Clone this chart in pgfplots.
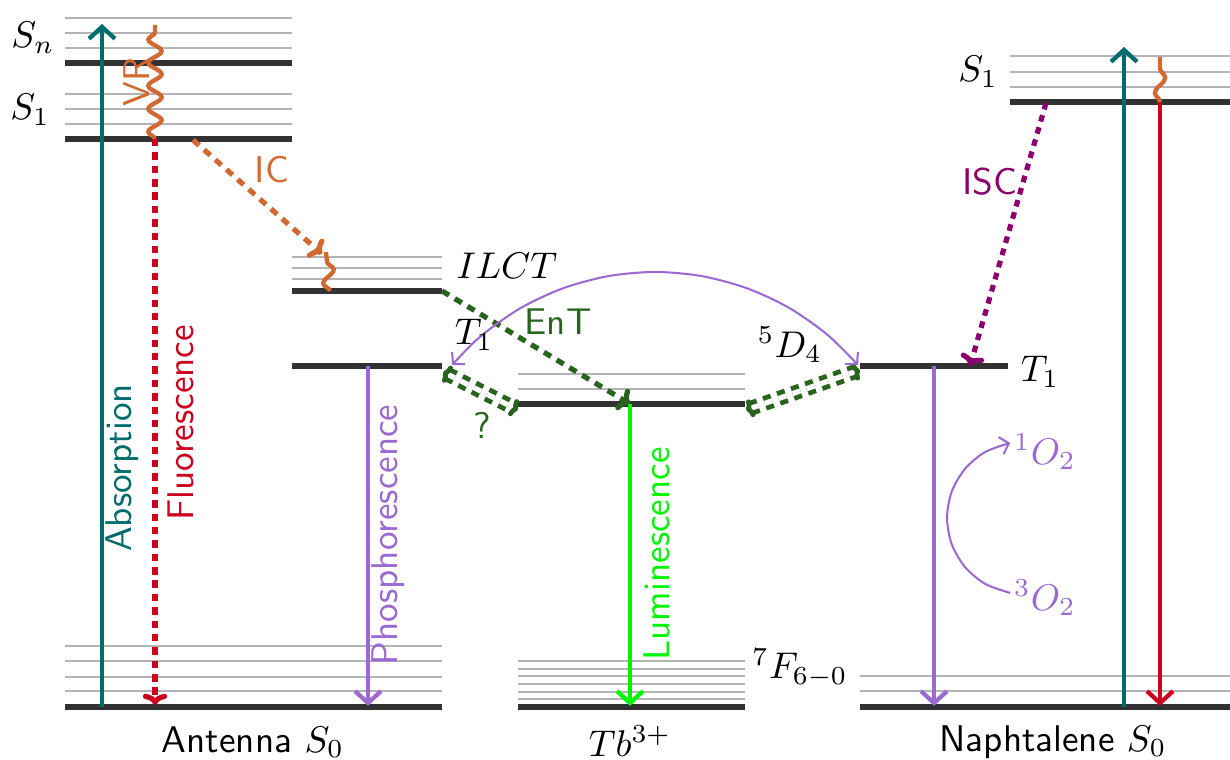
\documentclass[border=0pt]{standalone}
\usepackage{pgfplots}
\pgfplotsset{compat=1.18}
\usetikzlibrary{arrows.meta,decorations.pathmorphing}
\definecolor{lvl}{RGB}{50,50,50}
\definecolor{sub}{RGB}{180,180,180}
\definecolor{cteal}{RGB}{0,108,108}
\definecolor{cred}{RGB}{205,0,30}
\definecolor{corange}{RGB}{210,105,50}
\definecolor{cpurple}{RGB}{155,105,210}
\definecolor{cgreen}{RGB}{40,100,30}
\definecolor{clime}{RGB}{0,245,0}
\definecolor{cmag}{RGB}{140,0,110}
\begin{document}
\begin{tikzpicture}
\begin{axis}[scale only axis, width=331pt, height=204.5pt,
  xmin=0, xmax=1230, ymin=0, ymax=760, y dir=reverse,
  hide axis, clip=false,
  level/.style={lvl, line width=1.4pt},
  sublevel/.style={sub, line width=0.6pt},
  tr/.style={line width=1.15pt, -{Straight Barb[length=3.2pt,width=7pt]}},
  dsh/.style={line width=1.4pt, dash pattern=on 2.2pt off 1.8pt, -{To[length=3pt,width=6.5pt]}},
  wav/.style={corange, line width=1.15pt, decorate, decoration={snake, amplitude=1.8pt, segment length=6.2pt}},
]
% ---------------- Antenna levels
\addplot[sublevel] coordinates {(65,18)(292,18)};
\addplot[sublevel] coordinates {(65,33)(292,33)};
\addplot[sublevel] coordinates {(65,48)(292,48)};
\addplot[level] coordinates {(65,63)(292,63)};
\addplot[sublevel] coordinates {(65,94)(292,94)};
\addplot[sublevel] coordinates {(65,109)(292,109)};
\addplot[sublevel] coordinates {(65,124)(292,124)};
\addplot[level] coordinates {(65,139)(292,139)};
% ILCT
\addplot[sublevel] coordinates {(292,257)(442,257)};
\addplot[sublevel] coordinates {(292,268)(442,268)};
\addplot[sublevel] coordinates {(292,279)(442,279)};
\addplot[level] coordinates {(292,291)(442,291)};
% T1 antenna
\addplot[level] coordinates {(292,366)(442,366)};
% ground antenna
\addplot[sublevel] coordinates {(65,646)(442,646)};
\addplot[sublevel] coordinates {(65,661)(442,661)};
\addplot[sublevel] coordinates {(65,677)(442,677)};
\addplot[sublevel] coordinates {(65,691)(442,691)};
\addplot[level] coordinates {(65,707)(442,707)};
% ---------------- Tb levels
\addplot[sublevel] coordinates {(518,374)(745,374)};
\addplot[sublevel] coordinates {(518,389)(745,389)};
\addplot[level] coordinates {(518,404)(745,404)};
\addplot[sublevel] coordinates {(518,661)(745,661)};
\addplot[sublevel] coordinates {(518,669)(745,669)};
\addplot[sublevel] coordinates {(518,676)(745,676)};
\addplot[sublevel] coordinates {(518,684)(745,684)};
\addplot[sublevel] coordinates {(518,692)(745,692)};
\addplot[sublevel] coordinates {(518,699)(745,699)};
\addplot[level] coordinates {(518,707)(745,707)};
% ---------------- Naphthalene levels
\addplot[sublevel] coordinates {(1010,56)(1230,56)};
\addplot[sublevel] coordinates {(1010,72)(1230,72)};
\addplot[sublevel] coordinates {(1010,87)(1230,87)};
\addplot[level] coordinates {(1010,102)(1230,102)};
\addplot[level] coordinates {(860,366)(1008,366)};
\addplot[sublevel] coordinates {(860,676)(1230,676)};
\addplot[sublevel] coordinates {(860,691)(1230,691)};
\addplot[level] coordinates {(860,707)(1230,707)};
% ---------------- Transitions antenna
\addplot[tr, cteal] coordinates {(102,707)(102,24)};
\addplot[wav] coordinates {(155,139)(155,25)};
\addplot[dsh, cred, dash pattern=on 2pt off 1.6pt] coordinates {(155,139)(155,705)};
\addplot[dsh, corange] coordinates {(193,140)(322,254)};
\addplot[wav, decoration={snake, amplitude=1.6pt, segment length=7pt}] coordinates {(330,291)(326,252)};
\addplot[tr, cpurple] coordinates {(368,366)(368,706)};
% EnT
\addplot[dsh, cgreen] coordinates {(442,291)(630,404)};
% double dashed
\addplot[cgreen, line width=1.3pt, double=white, double distance=1.4pt, dash pattern=on 2.2pt off 1.8pt, {To[length=2pt,width=5pt]}-{To[length=2pt,width=5pt]}] coordinates {(443,372)(518,410)};
\addplot[cgreen, line width=1.3pt, double=white, double distance=1.4pt, dash pattern=on 2.2pt off 1.8pt, {To[length=2pt,width=5pt]}-{To[length=2pt,width=5pt]}] coordinates {(746,410)(860,370)};
% purple arc
\addplot[cpurple, line width=0.55pt, smooth, {Straight Barb[length=2.2pt,width=4.8pt]}-{Straight Barb[length=2.2pt,width=4.8pt]}] coordinates {(452,365)(482.7,334.7)(520.95,307.9)(563.3,288.2)(608.5,276.1)(655,272)(701.5,276.1)(746.7,288.2)(789.05,307.9)(827.3,334.7)(858,365)};
% luminescence
\addplot[tr, clime] coordinates {(630,404)(630,706)};
% ---------------- Naphthalene transitions
\addplot[tr, cpurple] coordinates {(934,366)(934,706)};
\addplot[tr, cteal] coordinates {(1124,707)(1124,47)};
\addplot[tr, cred] coordinates {(1160,102)(1160,706)};
\addplot[wav, decoration={snake, amplitude=1.4pt, segment length=8pt}] coordinates {(1160,102)(1160,57)};
\addplot[dsh, cmag, dash pattern=on 1.8pt off 1.6pt] coordinates {(1046,103)(970,366)};
% O2 arc
\addplot[cpurple, line width=0.55pt, smooth, -{Straight Barb[length=2.2pt,width=4.8pt]}] coordinates {(1010.2,593)(985.05,583.9)(964.8,566.9)(951.6,544)(947,518)(951.6,492)(964.8,469.1)(985.05,452.1)(1010.2,443)};
% ---------------- Labels
\node at (33,38) {$S_n$};
\node at (30,110) {$S_1$};
\node[corange, font=\sffamily, rotate=90] at (137,82) {VR};
\node[cteal, font=\sffamily, rotate=90] at (122,468) {Absorption};
\node[cred, font=\sffamily, rotate=90] at (181,423) {Fluorescence};
\node[corange, font=\sffamily] at (272,170) {IC};
\node at (507,266) {$ILCT$};
\node[cgreen, font=\sffamily] at (558,322) {EnT};
\node at (474,335) {$T_1$};
\node[cgreen, font=\sffamily] at (482,425) {?};
\node at (790,345) {$^5D_4$};
\node[cpurple, font=\sffamily, rotate=90] at (388,535) {Phosphorescence};
\node[clime, font=\sffamily, rotate=90] at (657,554) {Luminescence};
\node at (800,668) {$^7F_{6-0}$};
\node[cmag, font=\sffamily] at (990,182) {ISC};
\node at (1040,372) {$T_1$};
\node at (978,72) {$S_1$};
\node[cpurple] at (1045,452) {$^1O_2$};
\node[cpurple] at (1045,598) {$^3O_2$};
\node[font=\sffamily] at (253,742) {Antenna $S_0$};
\node at (630,741) {$Tb^{3+}$};
\node[font=\sffamily] at (1053,742) {Naphtalene $S_0$};
\end{axis}
\pgfresetboundingbox
\useasboundingbox (current axis.south west) rectangle (current axis.north east);
\end{tikzpicture}
\end{document}
